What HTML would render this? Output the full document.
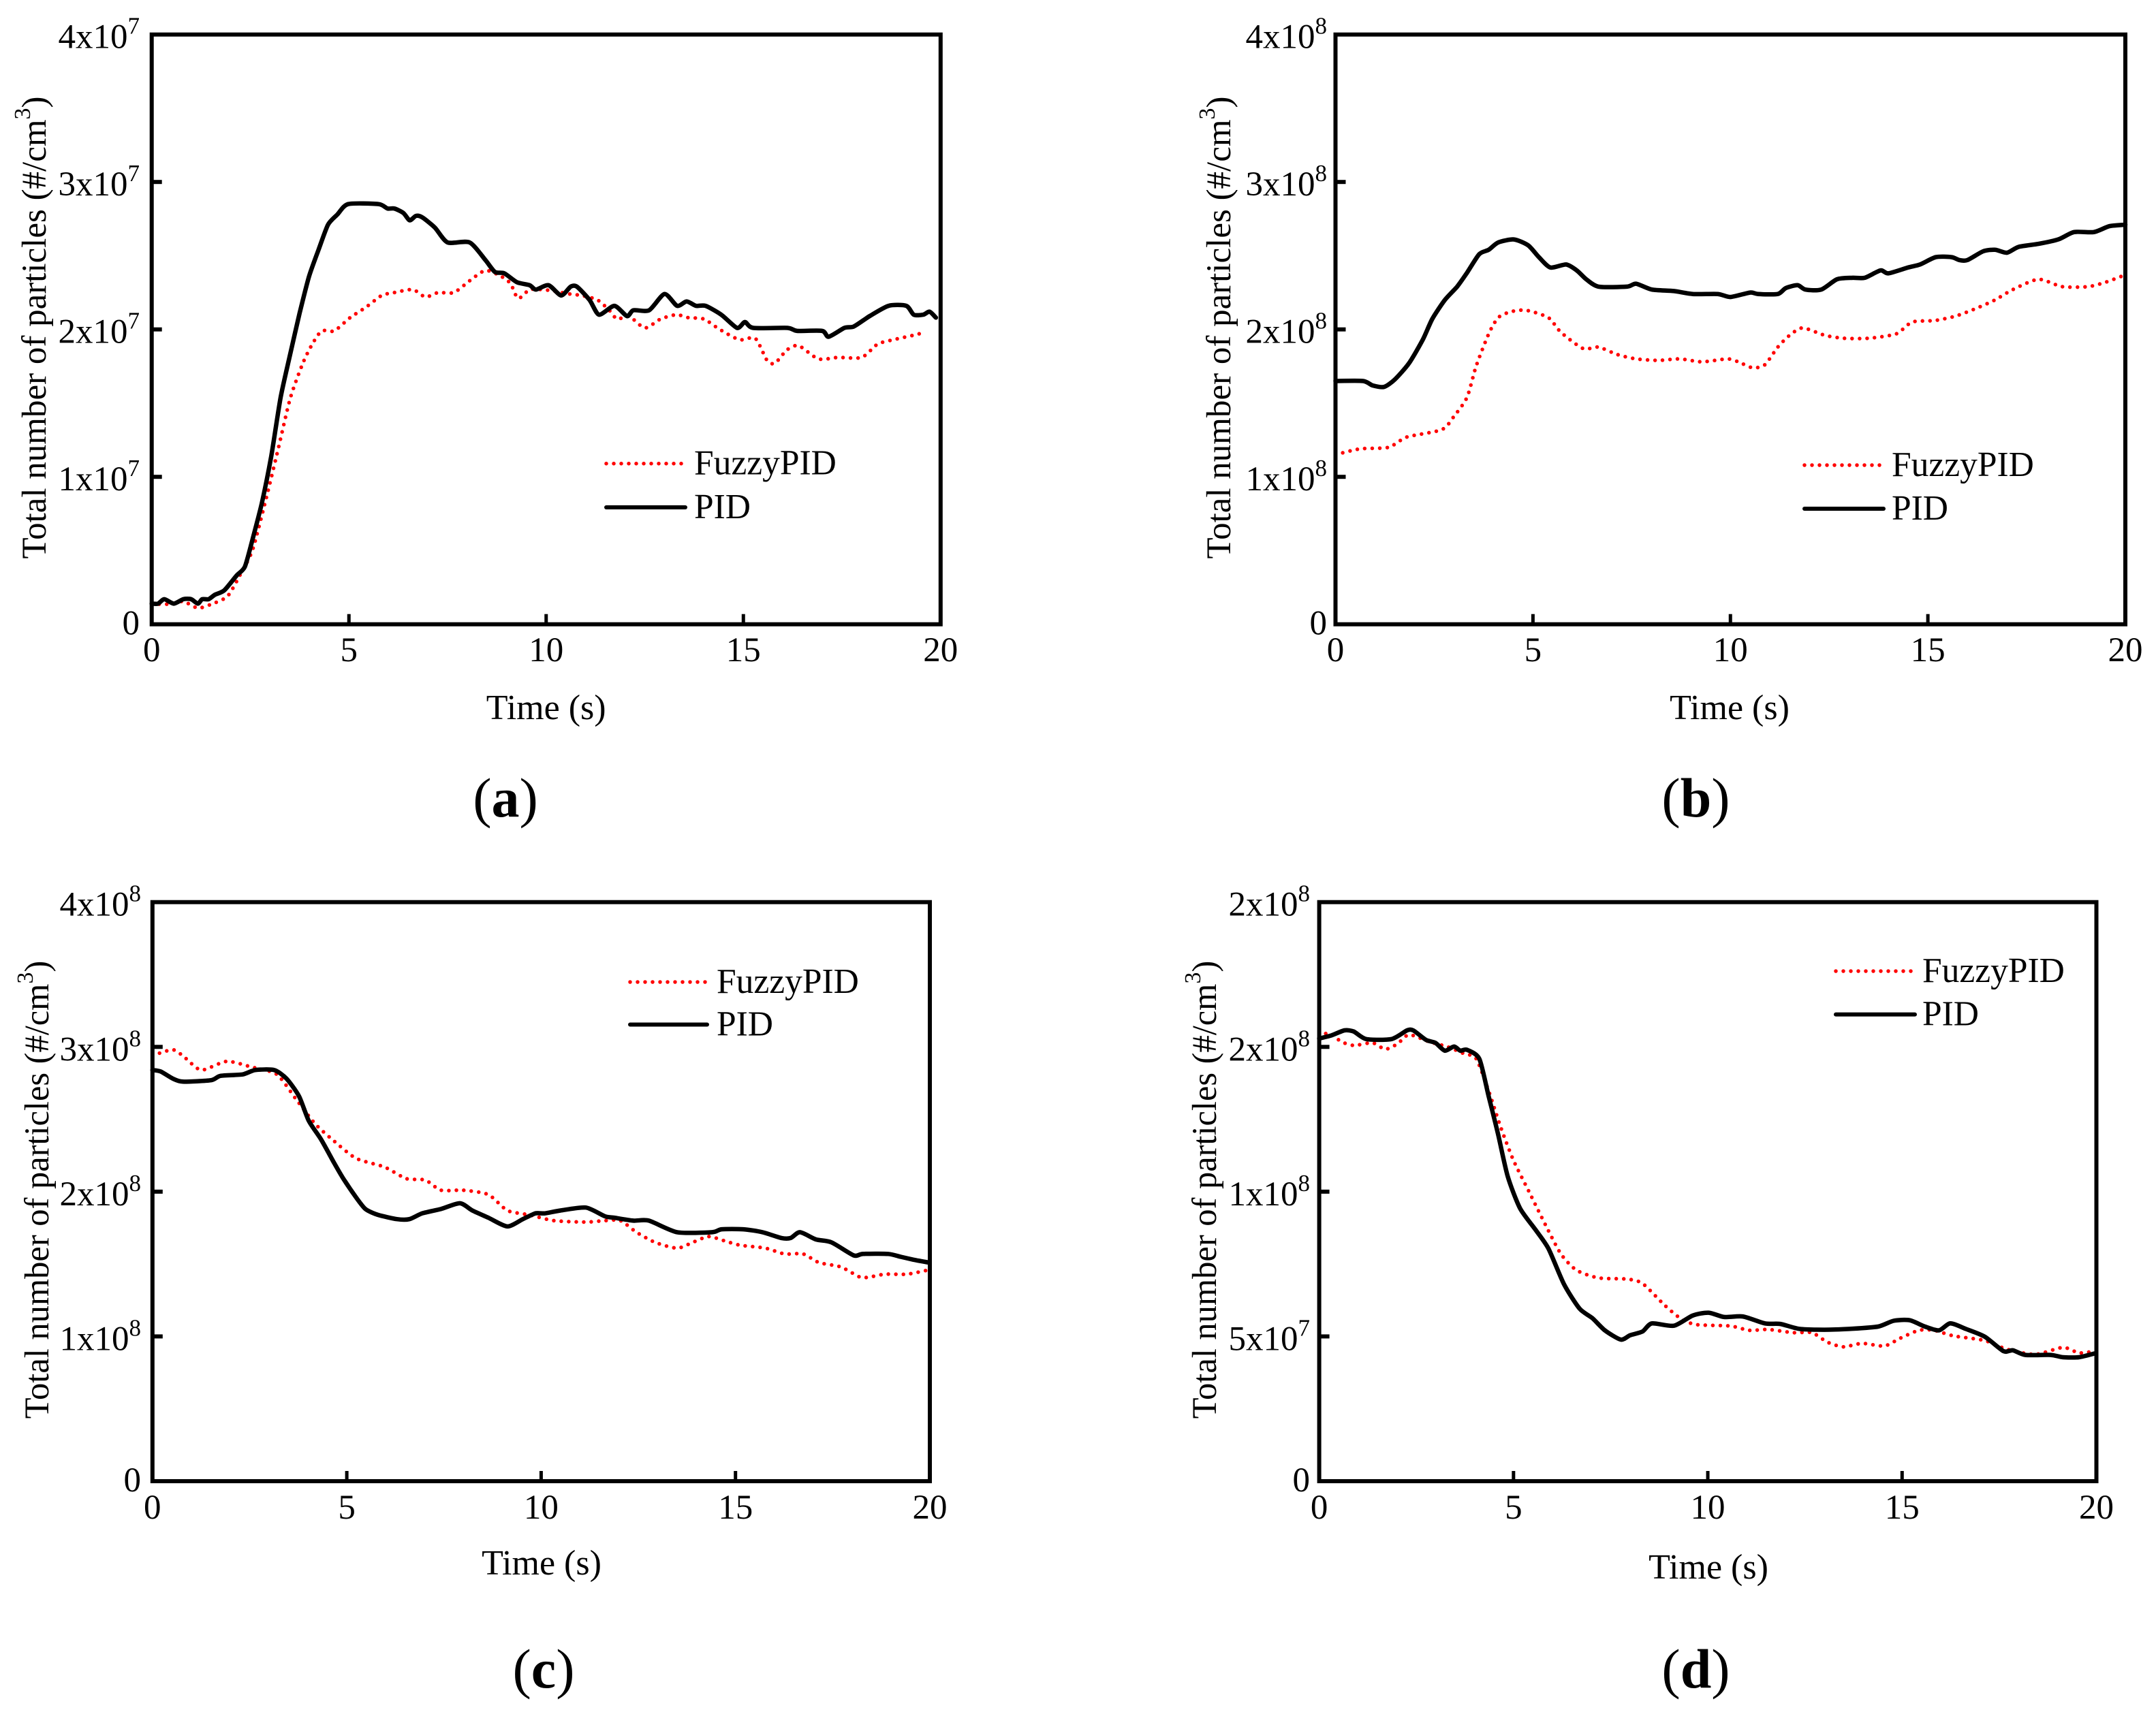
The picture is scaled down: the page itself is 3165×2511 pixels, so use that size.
<!DOCTYPE html>
<html>
<head>
<meta charset="utf-8">
<title>Total number of particles vs time</title>
<style>
html,body{margin:0;padding:0;background:#fff;}
svg{display:block;}
text{font-family:"Liberation Serif",serif;fill:#000;}
</style>
</head>
<body>
<svg id="chart" xmlns="http://www.w3.org/2000/svg" width="3165" height="2511" viewBox="0 0 3165 2511"></svg>
<script>
// ---- shared axis data ----
const xTicks = [0, 5, 10, 15, 20];
const xTickLabels = ['0', '5', '10', '15', '20'];
const seriesNames = ['FuzzyPID', 'PID'];

// ---- panel (a), values in units of 1e7 ----
const aYTicks = [0, 1, 2, 3, 4];
const aYMantissa = ['0', '1x10', '2x10', '3x10', '4x10'];
const aYExponent = ['', '7', '7', '7', '7'];
const aFuzzyTime = [0,.48,.8,1.17,1.52,1.92,2.23,2.55,2.87,3.19,
3.51,3.83,4.07,4.31,4.63,5.03,5.43,5.83,6.15,6.62,
6.94,7.26,7.66,8.06,8.46,8.86,9.1,9.29,9.58,9.9,
10.2,10.6,10.9,11.3,11.6,11.8,12.1,12.5,12.9,13.3,
13.6,14.0,14.4,14.9,15.3,15.6,15.8,16.1,16.4,16.9,
17.4,18.0,18.4,18.8,19.3,19.6];
const aFuzzyValues = [.137,.137,.155,.11,.137,.19,.33,.50,.82,1.17,
1.53,1.77,1.90,1.99,1.99,2.08,2.15,2.23,2.25,2.27,
2.22,2.25,2.25,2.33,2.40,2.36,2.31,2.21,2.27,2.27,
2.26,2.24,2.23,2.20,2.13,2.07,2.09,2.01,2.07,2.10,
2.08,2.07,2.0,1.93,1.94,1.79,1.77,1.86,1.89,1.80,
1.81,1.81,1.90,1.93,1.96,1.98];
const aPidTime = [0,.16,.32,.56,.8,1.0,1.17,1.28,1.44,1.6,
1.84,2.15,2.36,2.55,2.79,3.03,3.27,3.51,3.75,3.99,
4.23,4.47,4.71,4.98,5.75,5.98,6.15,6.38,6.54,6.7,
6.86,7.18,7.5,8.06,8.46,8.7,8.94,9.26,9.58,9.74,
10.06,10.38,10.62,10.78,11.1,11.34,11.73,12.05,12.21,12.61,
13.0,13.32,13.56,13.8,14.04,14.44,14.84,15.04,15.25,16.12,
16.36,17.0,17.16,17.56,17.8,18.2,18.68,19.13,19.32,19.56,
19.72,19.88];
const aPidValues = [.14,.14,.17,.14,.17,.17,.14,.17,.17,.20,
.23,.33,.39,.57,.82,1.14,1.54,1.83,2.11,2.36,
2.54,2.71,2.78,2.85,2.85,2.82,2.82,2.79,2.74,2.77,
2.76,2.69,2.59,2.59,2.47,2.39,2.38,2.32,2.30,2.27,
2.30,2.23,2.29,2.29,2.20,2.10,2.16,2.09,2.13,2.13,
2.24,2.16,2.19,2.16,2.16,2.10,2.01,2.05,2.01,2.01,
1.99,1.99,1.95,2.01,2.02,2.09,2.16,2.16,2.10,2.10,
2.12,2.08];

// ---- panel (b), values in units of 1e8 ----
const bYTicks = [0, 1, 2, 3, 4];
const bYMantissa = ['0', '1x10', '2x10', '3x10', '4x10'];
const bYExponent = ['', '8', '8', '8', '8'];
const bFuzzyTime = [0,.62,1.34,1.81,2.69,3.0,3.33,3.56,3.88,4.12,
4.44,4.83,5.39,5.71,6.27,6.66,7.13,7.61,8.17,8.72,
9.28,9.92,10.2,10.56,10.87,11.2,11.5,11.83,12.39,12.87,
13.5,14.2,14.6,15.17,15.7,16.2,16.7,17.15,17.8,18.4,
19.06,19.5,19.9];
const bFuzzyValues = [1.15,1.19,1.20,1.27,1.32,1.41,1.54,1.75,1.97,2.08,
2.12,2.13,2.08,1.98,1.87,1.88,1.83,1.80,1.79,1.80,
1.78,1.80,1.78,1.74,1.76,1.88,1.96,2.01,1.96,1.94,
1.94,1.97,2.05,2.06,2.09,2.14,2.20,2.27,2.34,2.29,
2.29,2.32,2.36];
const bPidTime = [0,.70,.94,1.23,1.50,1.86,2.21,2.45,2.77,3.08,
3.32,3.64,3.88,4.12,4.52,4.88,5.15,5.44,5.84,6.11,
6.35,6.66,7.38,7.61,8.01,8.57,9.05,9.68,10.0,10.5,
10.7,11.2,11.4,11.7,11.9,12.3,12.7,13.1,13.4,13.8,
14.0,14.5,14.8,15.2,15.6,15.8,16.0,16.4,16.7,17.0,
17.3,17.8,18.3,18.7,19.2,19.6,20.0];
const bPidValues = [1.65,1.65,1.62,1.61,1.66,1.77,1.93,2.07,2.20,2.29,
2.38,2.51,2.54,2.59,2.61,2.57,2.49,2.42,2.44,2.40,
2.34,2.29,2.29,2.31,2.27,2.26,2.24,2.24,2.22,2.25,
2.24,2.24,2.28,2.30,2.27,2.27,2.34,2.35,2.35,2.40,
2.38,2.42,2.44,2.49,2.49,2.47,2.47,2.53,2.54,2.52,
2.56,2.58,2.61,2.66,2.66,2.70,2.71];

// ---- panel (c), values in units of 1e8 ----
const cYTicks = [0, 1, 2, 3, 4];
const cYMantissa = ['0', '1x10', '2x10', '3x10', '4x10'];
const cYExponent = ['', '8', '8', '8', '8'];
const cFuzzyTime = [0,.53,.86,1.26,1.91,2.56,3.2,3.69,4.18,4.67,
5.24,5.97,6.53,7.02,7.42,7.99,8.64,9.13,9.69,10.33,
11.15,11.64,12.04,12.45,12.93,13.5,13.9,14.31,14.72,15.12,
15.77,16.26,16.74,17.15,17.71,18.2,18.44,18.85,19.41,19.98];
const cFuzzyValues = [2.94,2.98,2.92,2.84,2.90,2.86,2.81,2.64,2.47,2.35,
2.23,2.17,2.09,2.08,2.01,2.01,1.98,1.87,1.84,1.80,
1.79,1.80,1.80,1.72,1.65,1.61,1.65,1.69,1.66,1.63,
1.61,1.57,1.57,1.51,1.48,1.41,1.41,1.43,1.43,1.46];
const cPidTime = [0,.21,.53,.78,1.51,1.75,2.32,2.64,3.13,3.45,
3.77,4.02,4.34,4.67,4.91,5.24,5.48,5.8,6.29,6.61,
6.94,7.42,7.91,8.23,8.64,9.13,9.53,9.85,10.1,10.5,
11.15,11.64,11.88,12.37,12.77,13.5,14.4,14.64,15.2,15.69,
16.18,16.42,16.66,17.07,17.47,18.04,18.28,18.93,19.25,19.58,
19.98];
const cPidValues = [2.84,2.83,2.78,2.76,2.77,2.80,2.81,2.84,2.84,2.78,
2.66,2.49,2.36,2.20,2.09,1.96,1.88,1.84,1.81,1.81,
1.85,1.88,1.92,1.87,1.82,1.76,1.81,1.85,1.85,1.87,
1.89,1.83,1.82,1.80,1.80,1.72,1.72,1.74,1.74,1.72,
1.68,1.68,1.72,1.67,1.65,1.56,1.57,1.57,1.55,1.53,
1.51];

// ---- panel (d), values in units of 1e6 ----
const dYTicks = [0, 50, 100, 150, 200];
const dYMantissa = ['0', '5x10', '1x10', '2x10', '2x10'];
const dYExponent = ['', '7', '8', '8', '8'];
const dFuzzyTime = [0,.24,.57,.89,1.37,1.7,2.02,2.31,2.83,3.31,
3.72,4.04,4.36,4.68,5.0,5.41,5.82,6.22,6.62,7.19,
7.92,8.32,8.88,9.29,9.69,10.58,11.07,11.55,12.2,12.68,
13.08,13.49,13.97,14.54,14.94,15.43,15.83,16.32,17.12,17.69,
18.42,19.14,19.55,19.95];
const dFuzzyValues = [153.3,154.8,151.8,150.5,151.4,149.2,151.1,154.2,151.8,150,
147.7,145.9,134.8,121.9,110.8,99.7,88.6,78.5,72.9,70.2,
69.8,68.3,60.9,56.3,54.1,53.6,52.1,52.4,51.3,51.3,
48,46.4,47.6,46.7,49.3,52.1,52.1,50.2,48.6,45.6,
43.8,46.2,44.3,44.9];
const dPidTime = [0,.32,.65,.89,1.21,1.86,2.26,2.42,2.75,2.99,
3.23,3.47,3.63,3.8,4.12,4.36,4.6,4.85,5.17,5.57,
5.9,6.3,6.7,7.03,7.35,7.76,8.0,8.32,8.56,9.13,
9.61,10.02,10.42,10.9,11.47,11.87,12.36,13.0,13.65,14.38,
14.78,15.19,15.59,15.95,16.24,16.64,17.13,17.61,17.85,18.17,
18.82,19.14,19.55,19.95];
const dPidValues = [152.9,154,155.7,155.3,152.7,152.7,155.7,155.7,152.4,151.4,
148.7,150.1,148.7,149,145.9,133,120,105.3,94.2,86.8,
80.3,68,59.6,56.3,52.1,48.9,50.4,51.7,54.5,53.7,
57.2,58.2,56.7,56.9,54.5,54.3,52.6,52.3,52.6,53.4,
55.4,55.6,53.4,52.1,54.5,52.6,49.9,44.9,45.2,43.6,
43.6,42.8,42.8,44.1];

const NS = 'http://www.w3.org/2000/svg';
const root = document.getElementById('chart');

function make(parent, tag, props) {
  const node = document.createElementNS(NS, tag);
  for (const k in props) node.setAttribute(k, props[k]);
  parent.appendChild(node);
  return node;
}

const panels = [
  { id: 'a', L: 222.7, R: 1380.8, T: 50.7, B: 916.7, yTicks: aYTicks, mant: aYMantissa, exp: aYExponent,
    fT: aFuzzyTime, fV: aFuzzyValues, pT: aPidTime, pV: aPidValues,
    labelRight: 205, yTitleX: 67, yTitleMid: 481, yTitleSize: 51, xLabelY: 971, timeX: 801.7, timeY: 1056,
    legX1: 890, legX2: 1006, legRed: 680.7, legBlack: 745, legText: 1019, capX: 742, capY: 1199 },
  { id: 'b', L: 1960.5, R: 3120, T: 50.7, B: 916.7, yTicks: bYTicks, mant: bYMantissa, exp: bYExponent,
    fT: bFuzzyTime, fV: bFuzzyValues, pT: bPidTime, pV: bPidValues,
    labelRight: 1948, yTitleX: 1806, yTitleMid: 481, yTitleSize: 51, xLabelY: 971, timeX: 2539, timeY: 1056,
    legX1: 2649, legX2: 2765, legRed: 683, legBlack: 747, legText: 2777, capX: 2489.5, capY: 1199 },
  { id: 'c', L: 223.8, R: 1365, T: 1324.7, B: 2175, yTicks: cYTicks, mant: cYMantissa, exp: cYExponent,
    fT: cFuzzyTime, fV: cFuzzyValues, pT: cPidTime, pV: cPidValues,
    labelRight: 207, yTitleX: 71, yTitleMid: 1747, yTitleSize: 50.5, xLabelY: 2230, timeX: 795, timeY: 2312,
    legX1: 925, legX2: 1038, legRed: 1442, legBlack: 1504.5, legText: 1052, capX: 798, capY: 2478 },
  { id: 'd', L: 1936.6, R: 3077.5, T: 1324.7, B: 2175, yTicks: dYTicks, mant: dYMantissa, exp: dYExponent,
    fT: dFuzzyTime, fV: dFuzzyValues, pT: dPidTime, pV: dPidValues,
    labelRight: 1923, yTitleX: 1785, yTitleMid: 1747, yTitleSize: 50.5, xLabelY: 2230, timeX: 2508, timeY: 2318,
    legX1: 2695, legX2: 2811, legRed: 1426, legBlack: 1489.6, legText: 2822, capX: 2489.5, capY: 2478 }
];

function drawPanel(p) {
  const g = make(root, 'g', {});
  
  

  const yMax = p.yTicks[p.yTicks.length - 1];
  const xScale = t => p.L + (t / 20) * (p.R - p.L);
  const yScale = v => p.B - (v / yMax) * (p.B - p.T);
  // smooth curve through the data points
  const toPath = (ts, vs) => {
    const pts = ts.map((t, i) => [xScale(t), yScale(vs[i])]);
    let d = 'M' + pts[0][0].toFixed(1) + ' ' + pts[0][1].toFixed(1);
    for (let i = 0; i < pts.length - 1; i++) {
      const a = pts[Math.max(i - 1, 0)], b = pts[i], c = pts[i + 1], e = pts[Math.min(i + 2, pts.length - 1)];
      const k = 0.12;
      d += 'C' + (b[0] + (c[0] - a[0]) * k).toFixed(1) + ' ' + (b[1] + (c[1] - a[1]) * k).toFixed(1) + ' ' +
        (c[0] - (e[0] - b[0]) * k).toFixed(1) + ' ' + (c[1] - (e[1] - b[1]) * k).toFixed(1) + ' ' +
        c[0].toFixed(1) + ' ' + c[1].toFixed(1);
    }
    return d;
  };

  // series
  const fuzzy = make(g, 'path', { d: toPath(p.fT, p.fV), fill: 'none', stroke: '#ff0000', 'stroke-width': 5.5, 'stroke-dasharray': '0 11', 'stroke-linecap': 'round', 'stroke-linejoin': 'round' });
  
  
  const pid = make(g, 'path', { d: toPath(p.pT, p.pV), fill: 'none', stroke: '#000', 'stroke-width': 6.5, 'stroke-linejoin': 'round', 'stroke-linecap': 'round' });
  
  

  // frame
  const frame = make(g, 'rect', { x: p.L, y: p.T, width: p.R - p.L, height: p.B - p.T, fill: 'none', stroke: '#000', 'stroke-width': 6 });
  
  

  // x ticks and labels
  xTicks.forEach((t, i) => {
    const x = xScale(t);
    if (i > 0 && i < xTicks.length - 1) {
      const tick = make(g, 'line', { x1: x, x2: x, y1: p.B, y2: p.B - 15, stroke: '#000', 'stroke-width': 5 });
      
      
    }
    const lab = make(g, 'text', { x: x, y: p.xLabelY, 'font-size': 51, 'text-anchor': 'middle' });
    lab.textContent = xTickLabels[i];
    
    
  });

  // y ticks and labels
  p.yTicks.forEach((v, i) => {
    const y = yScale(v);
    if (i > 0 && i < p.yTicks.length - 1) {
      const tick = make(g, 'line', { x1: p.L, x2: p.L + 15, y1: y, y2: y, stroke: '#000', 'stroke-width': 6 });
      
      
    }
    const baseline = i === 0 ? y + 15 : y + 20;
    const lab = make(g, 'text', { x: p.labelRight, y: baseline, 'font-size': 51, 'text-anchor': 'end' });
    
    
    const m = make(lab, 'tspan', {});
    m.textContent = p.mant[i];
    if (p.exp[i]) {
      const e = make(lab, 'tspan', { dy: -21, 'font-size': 35 });
      e.textContent = p.exp[i];
    }
  });

  // y axis title
  const yt = make(g, 'text', { 'font-size': p.yTitleSize, 'text-anchor': 'middle', transform: 'translate(' + p.yTitleX + ' ' + p.yTitleMid + ') rotate(-90)' });
  
  
  const y1 = make(yt, 'tspan', {});
  y1.textContent = 'Total number of particles (#/cm';
  const y2 = make(yt, 'tspan', { dy: -23, 'font-size': 34 });
  y2.textContent = '3';
  const y3 = make(yt, 'tspan', { dy: 23 });
  y3.textContent = ')';

  // x axis title
  const xt = make(g, 'text', { x: p.timeX, y: p.timeY, 'font-size': 52, 'text-anchor': 'middle' });
  xt.textContent = 'Time (s)';
  
  

  // legend
  const legFuzzy = make(g, 'line', { x1: p.legX1, x2: p.legX2, y1: p.legRed, y2: p.legRed, stroke: '#ff0000', 'stroke-width': 5.5, 'stroke-dasharray': '0 11', 'stroke-linecap': 'round' });
  
  
  const legFuzzyText = make(g, 'text', { x: p.legText, y: p.legRed + 16, 'font-size': 51.5 });
  legFuzzyText.textContent = seriesNames[0];
  
  
  const legPid = make(g, 'line', { x1: p.legX1, x2: p.legX2, y1: p.legBlack, y2: p.legBlack, stroke: '#000', 'stroke-width': 6, 'stroke-linecap': 'round' });
  
  
  const legPidText = make(g, 'text', { x: p.legText, y: p.legBlack + 16, 'font-size': 51.5 });
  legPidText.textContent = seriesNames[1];
  
  

  // caption
  const cap = make(g, 'text', { x: p.capX, y: p.capY, 'font-size': 82, 'text-anchor': 'middle' });
  
  
  const c1 = make(cap, 'tspan', {});
  c1.textContent = '(';
  const c2 = make(cap, 'tspan', { 'font-weight': 'bold' });
  c2.textContent = p.id;
  const c3 = make(cap, 'tspan', {});
  c3.textContent = ')';
}

panels.forEach(drawPanel);
</script>
</body>
</html>
